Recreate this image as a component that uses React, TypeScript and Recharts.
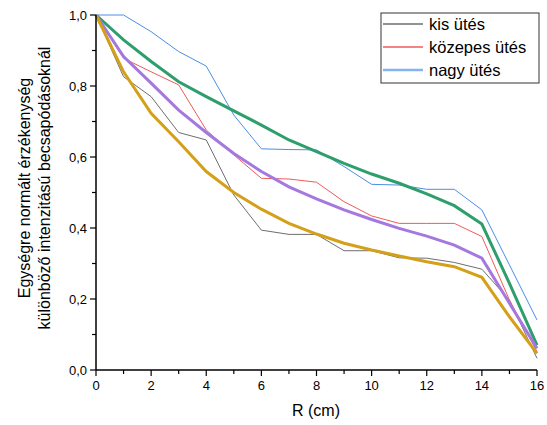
import React from 'react';
import { LineChart, Line, XAxis, YAxis } from 'recharts';

const rValues = [0, 1, 2, 3, 4, 5, 6, 7, 8, 9, 10, 11, 12, 13, 14, 15, 16];
const kisUtes = [1.0, 0.826, 0.77, 0.669, 0.648, 0.493, 0.394, 0.382, 0.382, 0.336, 0.336, 0.316, 0.315, 0.303, 0.284, 0.197, 0.033];
const kozepesUtes = [1.0, 0.878, 0.84, 0.803, 0.676, 0.606, 0.54, 0.538, 0.529, 0.474, 0.434, 0.413, 0.413, 0.413, 0.376, 0.197, 0.052];
const nagyUtes = [1.0, 1.0, 0.953, 0.897, 0.856, 0.718, 0.623, 0.621, 0.62, 0.573, 0.523, 0.521, 0.509, 0.509, 0.451, 0.296, 0.141];
const fitNagy = [1.0, 0.93, 0.869, 0.812, 0.77, 0.73, 0.69, 0.648, 0.615, 0.582, 0.552, 0.526, 0.496, 0.463, 0.411, 0.244, 0.07];
const fitKozepes = [1.0, 0.883, 0.808, 0.732, 0.669, 0.61, 0.559, 0.516, 0.482, 0.451, 0.424, 0.399, 0.377, 0.352, 0.315, 0.188, 0.061];
const fitKis = [1.0, 0.84, 0.723, 0.643, 0.559, 0.5, 0.453, 0.413, 0.383, 0.357, 0.338, 0.321, 0.305, 0.291, 0.261, 0.15, 0.047];

const xTicks = [0, 1, 2, 3, 4, 5, 6, 7, 8, 9, 10, 11, 12, 13, 14, 15, 16];
const yTicks = [0, 0.1, 0.2, 0.3, 0.4, 0.5, 0.6, 0.7, 0.8, 0.9, 1.0];
const legendLabels = ['kis ütés', 'közepes ütés', 'nagy ütés'];

const data = rValues.map((r, i) => ({
  r,
  kis: kisUtes[i],
  kozepes: kozepesUtes[i],
  nagy: nagyUtes[i],
  fNagy: fitNagy[i],
  fKozepes: fitKozepes[i],
  fKis: fitKis[i],
}));

const FONT = 'Liberation Sans, Arial, sans-serif';

const XTick = (props: any) => {
  const { x, y, payload } = props;
  const v = payload.value;
  const major = v % 2 === 0;
  return (
    <g>
      <line x1={x} y1={y} x2={x} y2={y + (major ? 6 : 4)} stroke="#000" strokeWidth={1.2} />
      {major && (
        <text x={x} y={y + 20} textAnchor="middle" fontSize={13} fontFamily={FONT} fill="#000">
          {v}
        </text>
      )}
    </g>
  );
};

const YTick = (props: any) => {
  const { x, y, payload } = props;
  const v = payload.value;
  const idx = Math.round(v * 10);
  const major = idx % 2 === 0;
  return (
    <g>
      <line x1={x - (major ? 6 : 4)} y1={y} x2={x} y2={y} stroke="#000" strokeWidth={1.2} />
      {major && (
        <text x={x - 9} y={y + 5} textAnchor="end" fontSize={13} fontFamily={FONT} fill="#000">
          {v.toFixed(1).replace('.', ',')}
        </text>
      )}
    </g>
  );
};

const legendColors = ['#6e6e6e', '#f05a5a', '#88b2ee'];
const legendWidths = [1.5, 1.5, 2.5];

export default function App() {
  return (
    <div style={{ position: 'absolute', left: 0, top: 0, width: 547, height: 425 }}>
      <LineChart width={547} height={425} data={data} margin={{ top: 15, right: 10, left: 8, bottom: 15 }}>
        <XAxis
          dataKey="r"
          type="number"
          domain={[0, 16]}
          ticks={xTicks}
          tick={<XTick />}
          tickLine={false}
          tickSize={0}
          tickMargin={0}
          height={40}
          axisLine={{ stroke: '#000', strokeWidth: 1.5 }}
          interval={0}
        />
        <YAxis
          type="number"
          domain={[0, 1]}
          ticks={yTicks}
          tick={<YTick />}
          tickLine={false}
          tickSize={0}
          tickMargin={0}
          width={88}
          axisLine={{ stroke: '#000', strokeWidth: 1.5 }}
          interval={0}
        />
        <Line dataKey="kis" stroke="#6e6e6e" strokeWidth={1} dot={false} isAnimationActive={false} type="linear" />
        <Line dataKey="kozepes" stroke="#f05a5a" strokeWidth={1} dot={false} isAnimationActive={false} type="linear" />
        <Line dataKey="nagy" stroke="#4a8ee6" strokeWidth={1} dot={false} isAnimationActive={false} type="linear" />
        <Line dataKey="fNagy" stroke="#2e9e6c" strokeWidth={3} dot={false} isAnimationActive={false} type="linear" />
        <Line dataKey="fKozepes" stroke="#a578e0" strokeWidth={3} dot={false} isAnimationActive={false} type="linear" />
        <Line dataKey="fKis" stroke="#d4a018" strokeWidth={3} dot={false} isAnimationActive={false} type="linear" />
      </LineChart>
      <svg width={547} height={425} style={{ position: 'absolute', left: 0, top: 0, pointerEvents: 'none' }}>
        <text transform="translate(30,188) rotate(-90)" textAnchor="middle" fontSize={16} fontFamily={FONT} fill="#000">
          Egységre normált érzékenység
        </text>
        <text transform="translate(50,188) rotate(-90)" textAnchor="middle" fontSize={16} fontFamily={FONT} fill="#000">
          különböző intenzitású becsapódásoknál
        </text>
        <text x={316} y={416} textAnchor="middle" fontSize={16} fontFamily={FONT} fill="#000">
          R (cm)
        </text>
        <rect x={381} y={13} width={158} height={70} fill="#fff" stroke="#555" strokeWidth={1.2} />
        {legendLabels.map((l, i) => (
          <g key={l}>
            <line x1={383} x2={423} y1={24 + i * 23} y2={24 + i * 23} stroke={legendColors[i]} strokeWidth={legendWidths[i]} />
            <text x={429} y={30 + i * 23} fontSize={16.5} fontFamily={FONT} fill="#000">
              {l}
            </text>
          </g>
        ))}
      </svg>
    </div>
  );
}
